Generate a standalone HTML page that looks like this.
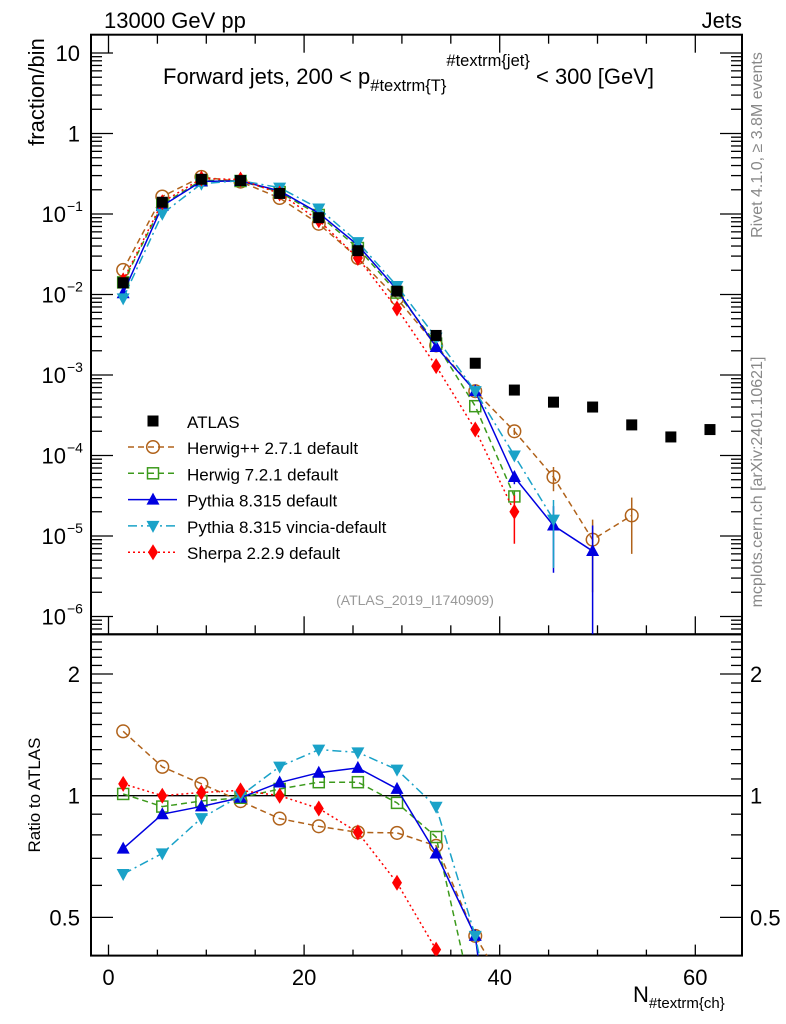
<!DOCTYPE html>
<html><head><meta charset="utf-8"><style>
html,body{margin:0;background:#fff;overflow:hidden;width:786px;height:1024px}
svg{display:block;font-family:"Liberation Sans","DejaVu Sans",sans-serif}
</style></head><body>
<svg id="c" width="786" height="1024" viewBox="0 0 786 1024" xmlns="http://www.w3.org/2000/svg">
<defs>
<clipPath id="clipTop"><rect x="91" y="34.7" width="651" height="599.6"/></clipPath>
<clipPath id="clipRat"><rect x="91" y="634.3" width="651" height="321.3"/></clipPath>
</defs>
<g id="layer"></g>
</svg>
<script>
const bins=[1.5,5.5,9.5,13.5,17.5,21.5,25.5,29.5,33.5,37.5,41.5,45.5,49.5,53.5,57.5,61.5];
const atlas=[0.014,0.14,0.27,0.26,0.18,0.09,0.035,0.011,0.0031,0.0014,6.5e-4,4.6e-4,4.0e-4,2.4e-4,1.7e-4,2.1e-4];
const herwigpp=[0.0202,0.165,0.289,0.252,0.158,0.0756,0.0284,0.0089,0.00233,6.3e-4,2.0e-4,5.4e-5,9e-6,1.8e-5];
const herwigppErr=[0,0,0,0,0,0,0,0,0,0,2e-5,1.8e-5,7e-6,1.2e-5];
const herwig7=[0.01414,0.1316,0.262,0.257,0.187,0.0972,0.0378,0.01056,0.00245,4.1e-4,3.1e-5];
const herwig7Err=[0,0,0,0,0,0,0,0,0,0,5e-6];
const pythia=[0.01036,0.126,0.254,0.257,0.194,0.1026,0.041,0.01144,0.00223,6.3e-4,5.4e-5,1.35e-5,6.5e-6];
const pythiaErr=[0,0,0,0,0,0,0,0,0,0,1e-5,1e-5,7e-6];
const vincia=[0.00896,0.1008,0.2376,0.26,0.2124,0.117,0.0448,0.01276,0.00291,6.3e-4,1.0e-4,1.6e-5];
const vinciaErr=[0,0,0,0,0,0,0,0,0,0,1e-5,1.2e-5];
const sherpa=[0.01498,0.14,0.275,0.268,0.18,0.0837,0.0284,0.0067,0.00129,2.1e-4,2.0e-5];
const sherpaErr=[0,0,0,0,0,0,0,0,0,0,1.2e-5];
const xTickLabels=["0","20","40","60"];
const xTickValues=[0,20,40,60];
const yTopExps=[1,0,-1,-2,-3,-4,-5,-6];
const ratioTickValues=[2,1,0.5];

const NS="http://www.w3.org/2000/svg";
const L=document.getElementById('layer');
function X(v){return 108.5+v*9.78;}
function YT(v){return 53-(Math.log10(v)-1)*80.5;}
function YR(r){return 795.7-Math.log2(r)*121.7;}
function mk(tag,at,parent){const e=document.createElementNS(NS,tag);for(const k in at)e.setAttribute(k,at[k]);(parent||L).appendChild(e);return e;}
function txt(s,x,y,at,parent){const e=mk('text',Object.assign({x:x,y:y},at),parent);e.textContent=s;return e;}

const f1=mk('rect',{x:91,y:34.7,width:651,height:599.6,fill:'none',stroke:'#000','stroke-width':2});


const f2=mk('rect',{x:91,y:634.3,width:651,height:321.3,fill:'none',stroke:'#000','stroke-width':2});



const xt=mk('g',{stroke:'#000','stroke-width':1.3});


for(let v=0;v<=64;v+=5){
  const maj=v%20===0, x=X(v);
  mk('line',{x1:x,x2:x,y1:634.3,y2:634.3-(maj?18:9)},xt);
  mk('line',{x1:x,x2:x,y1:34.7,y2:34.7+(maj?18:9)},xt);
  mk('line',{x1:x,x2:x,y1:955.6,y2:955.6-(maj?11:6)},xt);
}
xTickValues.forEach((v,i)=>{const t=txt(xTickLabels[i],X(v),985,{'font-size':22,'text-anchor':'middle'});

});
const yt=mk('g',{stroke:'#000','stroke-width':1.3});


for(let e=-7;e<=1;e++){for(let m=1;m<10;m++){const v=m*Math.pow(10,e);const y=YT(v);if(y<35||y>634)continue;
 const len=m===1?22:11;mk('line',{x1:91,x2:91+len,y1:y,y2:y},yt);mk('line',{x1:742,x2:742-len,y1:y,y2:y},yt);}}
yTopExps.forEach(e=>{const y=YT(Math.pow(10,e));let t;
 if(e===1)t=txt('10',80,y+8,{'font-size':22,'text-anchor':'end'});
 else if(e===0)t=txt('1',80,y+8,{'font-size':22,'text-anchor':'end'});
 else{t=txt('10',66,y+8,{'font-size':22,'text-anchor':'end'});const s=txt('\u2212'+(-e),67,y-3,{'font-size':14});
 
 }
 
 });
for(let k=4;k<=25;k++){const r=k/10;const y=YR(r);if(y<635||y>955)continue;const maj=(k===5||k===10||k===20);
 mk('line',{x1:91,x2:91+(maj?22:11),y1:y,y2:y},yt);mk('line',{x1:742,x2:742-(maj?22:11),y1:y,y2:y},yt);}
ratioTickValues.forEach(r=>{const y=YR(r);const s=String(r);
 const a=txt(s,80,y+8,{'font-size':22,'text-anchor':'end'});
 const b=txt(s,750,y+8,{'font-size':22});});
const one=mk('line',{x1:91,x2:742,y1:YR(1),y2:YR(1),stroke:'#000','stroke-width':1.3});



let t;
t=txt('13000 GeV pp',104,28,{'font-size':22});
t=txt('Jets',742,28,{'font-size':22,'text-anchor':'end'});
t=mk('text',{x:163,y:84,'font-size':22});
t.innerHTML='Forward jets, 200 &lt; p<tspan font-size="16.5" dy="7">#textrm{T}</tspan><tspan font-size="16.5" dy="-25">#textrm{jet}</tspan><tspan dy="18"> &lt; 300 [GeV]</tspan>';
t=txt('fraction/bin',44,92,{'font-size':22,'text-anchor':'middle',transform:'rotate(-90 44 92)'});
t=txt('Ratio to ATLAS',40,795,{'font-size':17,'text-anchor':'middle',transform:'rotate(-90 40 795)'});
t=mk('text',{x:633,y:1002,'font-size':22});
t.innerHTML='N<tspan font-size="15" dy="6">#textrm{ch}</tspan>';
t=txt('Rivet 4.1.0, \u2265 3.8M events',762,145,{'font-size':16,fill:'#888','text-anchor':'middle',transform:'rotate(-90 762 145)'});
t=txt('mcplots.cern.ch [arXiv:2401.10621]',762,482,{'font-size':16,fill:'#888','text-anchor':'middle',transform:'rotate(-90 762 482)'});
t=txt('(ATLAS_2019_I1740909)',415,605,{'font-size':14,fill:'#999','text-anchor':'middle'});

function marker(type,x,y,col,parent){
 if(type==='sq')return mk('rect',{x:x-5.5,y:y-5.5,width:11,height:11,fill:'#000'},parent);
 if(type==='circ')return mk('circle',{cx:x,cy:y,r:6.3,fill:'none',stroke:col,'stroke-width':1.5},parent);
 if(type==='osq')return mk('rect',{x:x-5.5,y:y-5.5,width:11,height:11,fill:'none',stroke:col,'stroke-width':1.5},parent);
 if(type==='tu')return mk('polygon',{points:`${x},${y-7} ${x-6.5},${y+5} ${x+6.5},${y+5}`,fill:col},parent);
 if(type==='td')return mk('polygon',{points:`${x},${y+7} ${x-6.5},${y-5} ${x+6.5},${y-5}`,fill:col},parent);
 if(type==='dia')return mk('polygon',{points:`${x},${y-8} ${x-5},${y} ${x},${y+8} ${x+5},${y}`,fill:col},parent);
}
const series=[
 {name:'herwigpp',vals:herwigpp,err:herwigppErr,col:'#b0621a',m:'circ',dash:'6,4',label:'Herwig++ 2.7.1 default'},
 {name:'herwig7',vals:herwig7,err:herwig7Err,col:'#3c9a1c',m:'osq',dash:'6,4',label:'Herwig 7.2.1 default'},
 {name:'pythia',vals:pythia,err:pythiaErr,col:'#0000e0',m:'tu',dash:'',label:'Pythia 8.315 default'},
 {name:'vincia',vals:vincia,err:vinciaErr,col:'#1aa2c8',m:'td',dash:'9,4,2,4',label:'Pythia 8.315 vincia-default'},
 {name:'sherpa',vals:sherpa,err:sherpaErr,col:'#ff0000',m:'dia',dash:'2,3',label:'Sherpa 2.2.9 default'}
];
const gTop=mk('g',{'clip-path':'url(#clipTop)'});


const gRat=mk('g',{'clip-path':'url(#clipRat)'});



series.forEach(s=>{
 const g=mk('g',{},gTop);
 
 
 const pts=s.vals.map((v,i)=>X(bins[i])+','+YT(v)).join(' ');
 mk('polyline',{points:pts,fill:'none',stroke:s.col,'stroke-width':1.5,'stroke-dasharray':s.dash},g);
 s.vals.forEach((v,i)=>{const e=s.err[i]||0;if(e>0){const lo=v-e>0?YT(v-e):700;
   const l=mk('line',{x1:X(bins[i]),x2:X(bins[i]),y1:YT(v+e),y2:lo,stroke:s.col,'stroke-width':1.5},g);
   
   }
   const p=marker(s.m,X(bins[i]),YT(v),s.col,g);
   
   });
 const gr=mk('g',{},gRat);
 
 
 const rp=s.vals.map((v,i)=>X(bins[i])+','+YR(v/atlas[i])).join(' ');
 mk('polyline',{points:rp,fill:'none',stroke:s.col,'stroke-width':1.5,'stroke-dasharray':s.dash},gr);
 s.vals.forEach((v,i)=>{const p=marker(s.m,X(bins[i]),YR(v/atlas[i]),s.col,gr);
   
   });
});
const ga=mk('g',{},gTop);


atlas.forEach((v,i)=>{const p=marker('sq',X(bins[i]),YT(v),'#000',ga);
 
 });

const lg=mk('g',{});


const e0=mk('g',{},lg);


marker('sq',153,421,'#000',e0);txt('ATLAS',187,428,{'font-size':17},e0);
series.forEach((s,k)=>{const y=447+k*26.3;const e=mk('g',{},lg);
 
 
 mk('line',{x1:128,x2:177,y1:y,y2:y,stroke:s.col,'stroke-width':1.5,'stroke-dasharray':s.dash},e);
 marker(s.m,153,y,s.col,e);txt(s.label,187,y+7,{'font-size':17},e);});
</script>
</body></html>
